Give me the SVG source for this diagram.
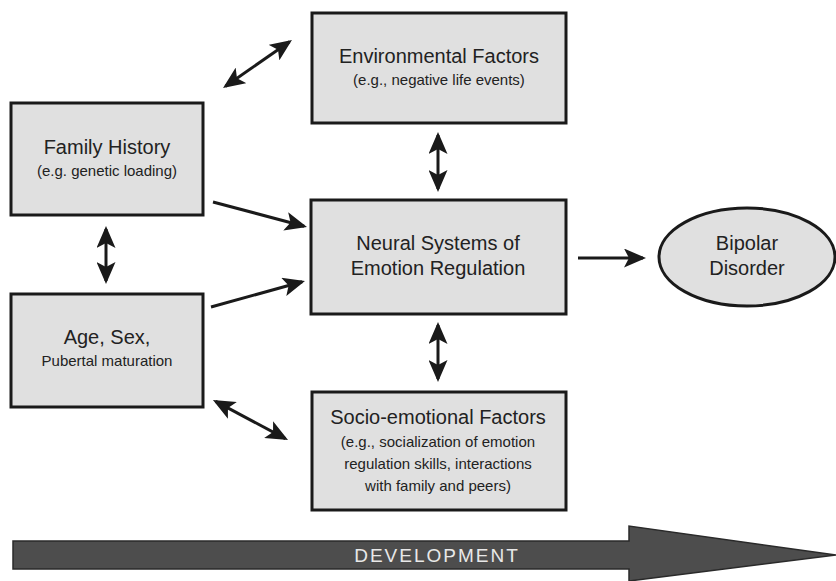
<svg xmlns="http://www.w3.org/2000/svg" width="836" height="581" viewBox="0 0 836 581">
<defs>
<marker id="ah" viewBox="0 0 22 19" refX="19" refY="9.5" markerWidth="22" markerHeight="19" orient="auto-start-reverse" markerUnits="userSpaceOnUse">
<path d="M0,0 L22,9.5 L0,19 L5,9.5 Z" fill="#1a1a1a"/>
</marker>
<style>
.box{fill:#e0e0e0;stroke:#1a1a1a;stroke-width:3}
.t{font-family:"Liberation Sans",Arial,sans-serif;font-size:20px;fill:#222;text-anchor:middle}
.s{font-family:"Liberation Sans",Arial,sans-serif;font-size:15px;fill:#222;text-anchor:middle}
.c{stroke:#1a1a1a;stroke-width:3;fill:none}
.bi{marker-start:url(#ah);marker-end:url(#ah)}
.uni{marker-end:url(#ah)}
</style>
</defs>
<rect width="836" height="581" fill="#fff"/>
<g id="env">
<rect class="box" x="312" y="13" width="254" height="110"/>
<text class="t" x="439" y="63">Environmental Factors</text>
<text class="s" x="439" y="85">(e.g., negative life events)</text>
</g>
<g id="family">
<rect class="box" x="11" y="103" width="192" height="112"/>
<text class="t" x="107" y="154">Family History</text>
<text class="s" x="107" y="176">(e.g. genetic loading)</text>
</g>
<g id="neural">
<rect class="box" x="311" y="200" width="255" height="114"/>
<text class="t" x="438" y="250">Neural Systems of</text>
<text class="t" x="438" y="275">Emotion Regulation</text>
</g>
<g id="age">
<rect class="box" x="11" y="294" width="192" height="113"/>
<text class="t" x="107" y="344">Age, Sex,</text>
<text class="s" x="107" y="366">Pubertal maturation</text>
</g>
<g id="socio">
<rect class="box" x="312" y="392" width="254" height="118"/>
<text class="t" x="438" y="424">Socio-emotional Factors</text>
<text class="s" x="438" y="447">(e.g., socialization of emotion</text>
<text class="s" x="438" y="469">regulation skills, interactions</text>
<text class="s" x="438" y="491">with family and peers)</text>
</g>
<g id="bipolar">
<ellipse cx="747" cy="257" rx="88" ry="49" fill="#e0e0e0" stroke="#1a1a1a" stroke-width="3"/>
<text class="t" x="747" y="250">Bipolar</text>
<text class="t" x="747" y="275">Disorder</text>
</g>
<g id="connectors">
<line class="c bi" x1="225.5" y1="86.3" x2="289.5" y2="41.7"/>
<line class="c bi" x1="438" y1="135" x2="438" y2="189"/>
<line class="c bi" x1="106" y1="229" x2="106" y2="281"/>
<line class="c uni" x1="213" y1="202" x2="304.1" y2="226.2"/>
<line class="c uni" x1="211" y1="307" x2="302.1" y2="281.8"/>
<line class="c bi" x1="438" y1="325" x2="438" y2="379"/>
<line class="c bi" x1="215.6" y1="401.4" x2="285.4" y2="438.6"/>
<line class="c uni" x1="578" y1="258" x2="643" y2="258"/>
</g>
<g id="development">
<polygon points="13,541 629,541 629,526 836,555 629,581 629,569 13,569" fill="#4d4d4d" stroke="#2a2a2a" stroke-width="1.5"/>
<text x="437" y="562" font-family="'Liberation Sans',Arial,sans-serif" font-size="19" fill="#e8e8e8" text-anchor="middle" letter-spacing="2">DEVELOPMENT</text>
</g>
</svg>
